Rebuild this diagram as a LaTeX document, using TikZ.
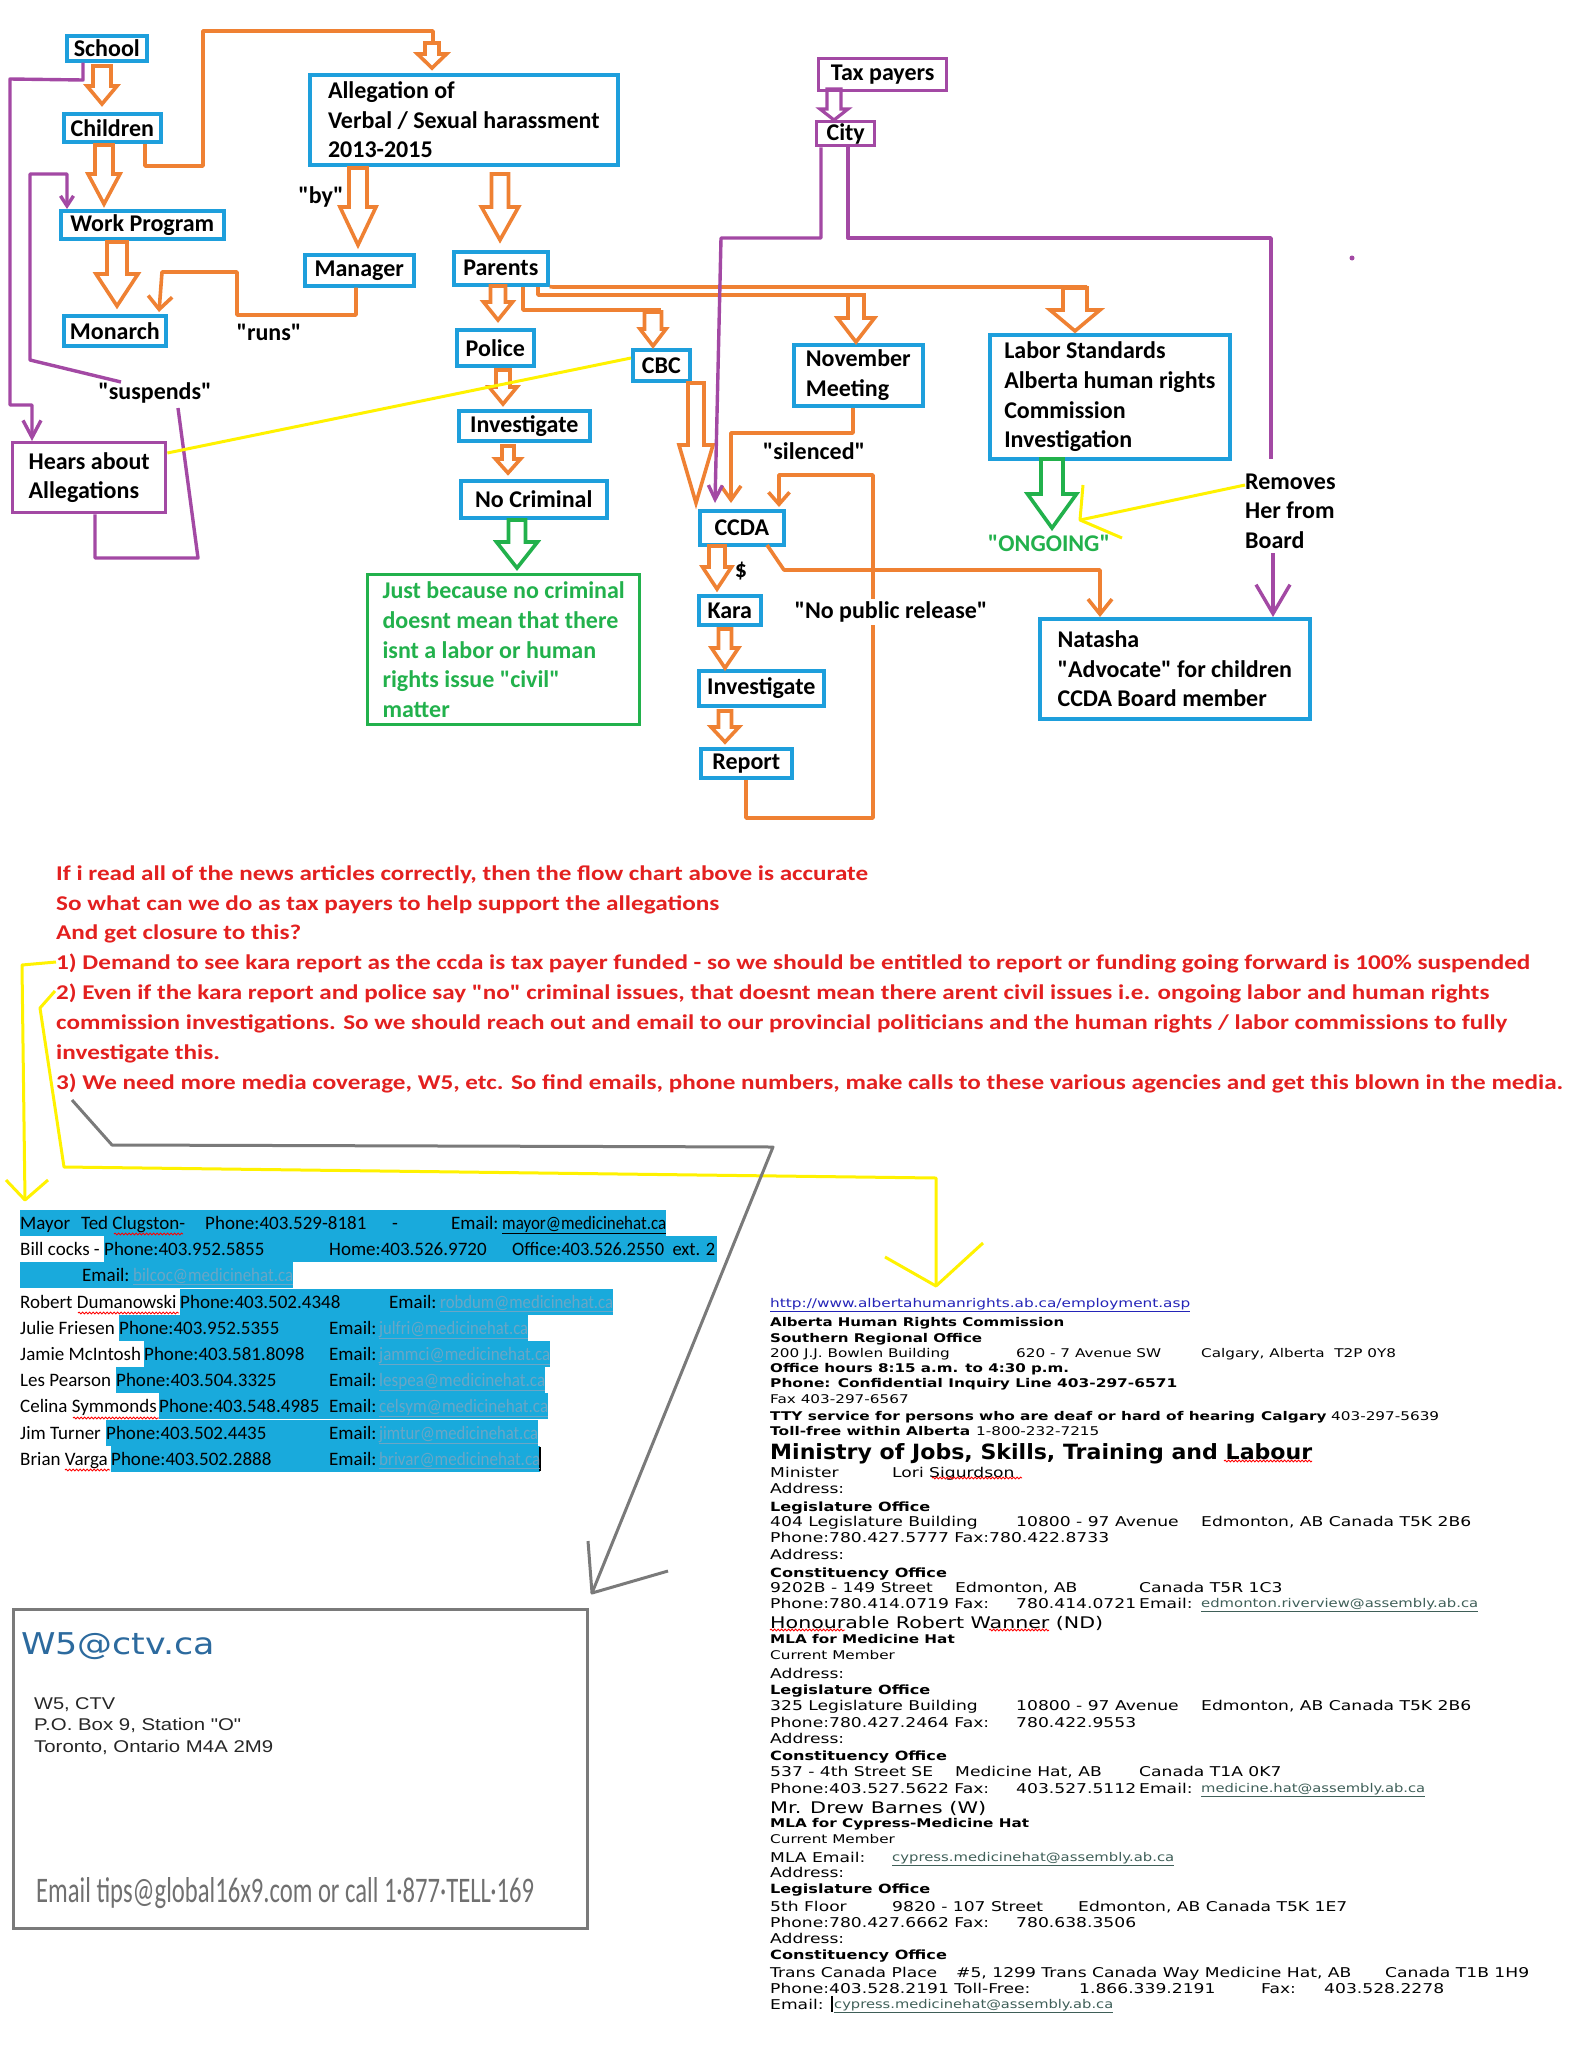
\documentclass[tikz,border=0pt]{standalone}
\usepackage{fontspec}
\setmainfont{Carlito}
\newfontfamily\carl{Carlito}
\newfontfamily\vf[FakeStretch=1.27]{DejaVu Sans}
\newfontfamily\djv{DejaVu Sans}
\newfontfamily\lbs{Liberation Sans}
\usetikzlibrary{arrows.meta,decorations.pathmorphing}
\definecolor{cblue}{HTML}{1E9FDC}
\definecolor{corange}{HTML}{EF8133}
\definecolor{cpurple}{HTML}{A349A4}
\definecolor{cgreen}{HTML}{22B14C}
\definecolor{cyellow}{HTML}{FFF200}
\definecolor{cgray}{HTML}{7A7A7A}
\definecolor{cred}{HTML}{E3201F}
\definecolor{chl}{HTML}{19AADC}
\definecolor{cfade}{HTML}{6AA6C6}
\definecolor{clink}{HTML}{2424B8}
\definecolor{cem}{HTML}{3F5F58}
\definecolor{cw5}{HTML}{2C6A9E}
\definecolor{ctips}{HTML}{707070}
\newcommand\lbl{\carl\fontsize{24}{29.7}\selectfont\bfseries}
\newcommand\redf{\carl\fontsize{21}{25}\selectfont\bfseries}
\newcommand\mf{\carl\fontsize{19}{22}\selectfont}
\newcommand\rf{\vf\fontsize{12}{14}\selectfont}
\newcommand\rfl{\vf\fontsize{13.5}{16}\selectfont}
\newcommand\rfh{\vf\fontsize{12.7}{15}\selectfont\bfseries}
\newcount\tn
% right column: regular, bold, large regular, heading, width-fitted
\newcommand\rline[3]{\global\advance\tn by 1 \node[anchor=base west,inner sep=0pt,font=\rf] (t\the\tn) at (#1,{#2+4.5}) {#3};}
\newcommand\bline[3]{\global\advance\tn by 1 \node[anchor=base west,inner sep=0pt,font=\rf\bfseries] (t\the\tn) at (#1,{#2+4.5}) {#3};}
\newcommand\lrline[3]{\global\advance\tn by 1 \node[anchor=base west,inner sep=0pt,font=\rfl] (t\the\tn) at (#1,{#2+5}) {#3};}
\newcommand\hdline[3]{\global\advance\tn by 1 \node[anchor=base west,inner sep=0pt,font=\rfh] (t\the\tn) at (#1,{#2+5}) {#3};}
\newcommand\wline[5]{\global\advance\tn by 1 \node[anchor=base west,inner sep=0pt,font=#4] (t\the\tn) at (#1,#2) {\resizebox{#3pt}{\height}{#5}};}
% mayor table
\newcommand\mt[3]{\global\advance\tn by 1 \node[anchor=base west,inner sep=0pt,font=\mf] (t\the\tn) at (#1,{#2+6}) {#3};}
\newcommand\me[4]{\global\advance\tn by 1 \node[anchor=base west,inner sep=0pt,font=\mf,text=cfade] (t\the\tn) at (#1,{#2+6}) {\resizebox{#3pt}{\height}{\underline{#4}}};}
\newcommand\hl[3]{\fill[chl] (#2,{#1-13.3}) rectangle (#3,{#1+13.3});}
% block arrow: style, xc, ytop, yhead, ytip, halfshaft, halfhead
\newcommand\barrow[7]{\draw[#1] ({#2-#6},#3) -- ({#2+#6},#3) -- ({#2+#6},#4) -- ({#2+#7},#4) -- (#2,#5) -- ({#2-#7},#4) -- ({#2-#6},#4) -- cycle;}
\tikzset{
 bluebox/.style={draw=cblue, line width=3.6pt, inner sep=0pt, anchor=north west, font=\lbl, align=left},
 purbox/.style={bluebox, draw=cpurple, line width=3.4pt},
 grnbox/.style={bluebox, draw=cgreen, line width=3.4pt, text=cgreen},
 oline/.style={draw=corange, line width=3.6pt, line join=round},
 pline/.style={draw=cpurple, line width=3.4pt, line join=round},
 yline/.style={draw=cyellow, line width=3pt, line join=round},
 gline/.style={draw=cgray, line width=3pt, line join=round},
 barr/.style={draw=corange, line width=3.6pt, line join=miter},
 barg/.style={draw=cgreen, line width=3.6pt, line join=miter},
 barp/.style={draw=cpurple, line width=3.2pt, line join=miter},
 lab/.style={font=\lbl, inner sep=0pt},
 sq/.style={draw=red, line width=0.9pt, decorate, decoration={snake, amplitude=0.9pt, segment length=3.5pt}},
}
\begin{document}
\begin{tikzpicture}[x=1pt,y=-1pt]
\fill[white] (0,0) rectangle (1583,2048);
\useasboundingbox (0,0) rectangle (1583,2048);

% ---------------- boxes ----------------
\node[bluebox, minimum width=80pt, minimum height=25pt] (school) at (65,34) {School};
\node[bluebox, minimum width=97pt, minimum height=28pt] (children) at (62,112) {Children};
\node[bluebox, minimum width=163pt, minimum height=28pt] (workprog) at (59,209) {Work Program};
\node[bluebox, minimum width=102pt, minimum height=30pt] (monarch) at (62,314) {Monarch};
\node[purbox, minimum width=153pt, minimum height=70pt] (hears) at (11,441) {Hears about\\Allegations};
\node[bluebox, minimum width=308pt, minimum height=90pt] (alleg) at (308,73) {Allegation of\\Verbal / Sexual harassment\\2013-2015};
\node[bluebox, minimum width=109pt, minimum height=31pt] (manager) at (303,253) {Manager};
\node[bluebox, minimum width=94pt, minimum height=33pt] (parents) at (452,250) {Parents};
\node[bluebox, minimum width=77pt, minimum height=36pt] (police) at (455,328) {Police};
\node[bluebox, minimum width=131pt, minimum height=30pt] (invest1) at (457,409) {Investigate};
\node[bluebox, minimum width=146pt, minimum height=37pt] (nocrim) at (459,479) {No Criminal};
\node[grnbox, minimum width=272pt, minimum height=150pt] (civil) at (366,573) {Just because no criminal\\doesnt mean that there\\isnt a labor or human\\rights issue "civil"\\matter};
\node[bluebox, minimum width=57pt, minimum height=31pt] (cbc) at (631,348) {CBC};
\node[bluebox, minimum width=84pt, minimum height=34pt] (ccda) at (698,509) {CCDA};
\node[bluebox, minimum width=62pt, minimum height=29pt] (kara) at (697,594) {Kara};
\node[bluebox, minimum width=125pt, minimum height=35pt] (invest2) at (697,669) {Investigate};
\node[bluebox, minimum width=91pt, minimum height=29pt] (report) at (699,747) {Report};
\node[bluebox, minimum width=129pt, minimum height=61pt] (november) at (792,343) {November\\Meeting};
\node[bluebox, minimum width=240pt, minimum height=124pt] (labor) at (988,333) {Labor Standards\\Alberta human rights\\Commission\\Investigation};
\node[bluebox, minimum width=270pt, minimum height=100pt] (natasha) at (1038,617) {Natasha\\"Advocate" for children\\CCDA Board member};
\node[purbox, minimum width=128pt, minimum height=32pt] (taxpayers) at (817,57) {Tax payers};
\node[purbox, minimum width=58pt, minimum height=24pt] (city) at (815,120) {City};

% ---------------- labels ----------------
\node[lab] (by) at (321,197) {"by"};
\node[lab] (runs) at (269,332) {"runs"};
\node[lab] (suspends) at (155,393) {"suspends"};
\node[lab] (silenced) at (814,451) {"silenced"};
\node[lab] (dollar) at (741,571) {\$};
\node[lab, text=cgreen] (ongoing) at (1049,543) {"ONGOING"};
\node[lab, anchor=west, align=left] (removes) at (1245,511) {Removes\\Her from\\Board};

% ---------------- block arrows ----------------
\barrow{barr}{102}{66}{86}{104}{9}{15}
\barrow{barr}{104}{145}{174}{204}{9}{16}
\barrow{barr}{117}{242}{274}{306}{10}{21}
\barrow{barr}{358}{168}{207}{245}{9}{18}
\barrow{barr}{500}{174}{207}{240}{8.5}{18.5}
\barrow{barr}{498}{286}{302}{320}{7.5}{14.5}
\barrow{barr}{503}{370}{387}{404}{7}{14}
\barrow{barr}{508}{446}{459}{473}{6}{12.5}
\barrow{barg}{517}{520}{542}{568}{8.5}{20.5}
\barrow{barr}{432}{43}{54}{68}{7}{14.5}
\barrow{barr}{653}{312}{329}{346}{8.5}{13}
\barrow{barr}{856}{295}{318}{342}{8}{18.5}
\barrow{barr}{1075}{288}{310}{331}{12}{25}
\barrow{barr}{696}{383}{445}{503}{8}{17}
\barrow{barr}{717}{546}{567}{589}{8}{14.5}
\barrow{barr}{725}{629}{648}{668}{6.5}{13.5}
\barrow{barr}{725}{711}{727}{742}{6.5}{14}
\barrow{barg}{1052}{459}{494}{528}{11}{24.5}
\barrow{barp}{834}{89}{109}{120}{7}{14}

% ---------------- orange connectors ----------------
\draw[oline] (children.south -| 145,0) -- (145,166) -- (203,166) -- (203,31) -- (433,31) -- (433,43);
\draw[oline, -{Straight Barb[length=13pt,width=24pt]}] (manager.south -| 356,0) -- (356,315) -- (237,315) -- (237,272) -- (162,272) -- (159,312);
\draw[oline] (parents.south -| 523,0) -- (523,310) -- (661,310);
\draw[oline] (parents.south -| 538,0) -- (538,295) -- (864,295);
\draw[oline] (parents.south east) -- (553,287) -- (1087,287);
\draw[oline, -{Straight Barb[length=14pt,width=20pt]}] (november.south -| 853,0) -- (853,433) -- (731,433) -- (731,503);
\draw[oline, -{Straight Barb[length=12pt,width=21pt]}] (report.south -| 746,0) -- (746,818) -- (873,818) -- (873,475) -- (779,475) -- (779,507);
\draw[oline, -{Straight Barb[length=15pt,width=24pt]}] (767,545) -- (784,570) -- (1100,570) -- (natasha.north -| 1100,0);
\node[lab, fill=white, inner ysep=3pt, inner xsep=1pt] (nopub) at (891,612) {"No public release"};

% ---------------- purple connectors ----------------
\draw[pline, -{Straight Barb[length=17pt,width=18pt]}] (school.south -| 83,0) -- (83,80) -- (10,79) -- (10,405) -- (32,405) -- (hears.north -| 32,0);
\draw[pline] (hears.south -| 95,0) -- (95,558) -- (198,558) -- (178,408);
\draw[pline, -{Straight Barb[length=10pt,width=13pt]}] (121,382) -- (30,360) -- (30,174) -- (67,174) -- (workprog.north -| 67,0);
\draw[pline, -{Straight Barb[length=14pt,width=14pt]}] (city.south -| 821,0) -- (821,238) -- (721,238) -- (715,503);
\draw[pline] (city.south -| 848,0) -- (848,238) -- (1271,238) -- (1271,459);
\draw[pline, -{Straight Barb[length=29pt,width=34pt]}] (1273,553) -- (natasha.north -| 1273,0);
\fill[cpurple] (1352,258) circle (2.5);

% ---------------- yellow connectors ----------------
\draw[yline] (hears.east |- 0,453) -- (cbc.west |- 0,358);
\draw[yline] (removes.west |- 0,485) -- (1080,520);
\draw[yline] (1083,485) -- (1080,520) -- (1122,538);

% ---------------- red text ----------------
\wline{56}{880}{812}{\redf\color{cred}}{If i read all of the news articles correctly, then the flow chart above is accurate}
\wline{56}{910}{663}{\redf\color{cred}}{So what can we do as tax payers to help support the allegations}
\wline{56}{939}{245}{\redf\color{cred}}{And get closure to this?}
\wline{56}{969}{1474}{\redf\color{cred}}{1) Demand to see kara report as the ccda is tax payer funded - so we should be entitled to report or funding going forward is 100\% suspended}
\wline{56}{999}{1433}{\redf\color{cred}}{2) Even if the kara report and police say "no" criminal issues, that doesnt mean there arent civil issues i.e. ongoing labor and human rights}
\wline{56}{1029}{1451}{\redf\color{cred}}{commission investigations. So we should reach out and email to our provincial politicians and the human rights / labor commissions to fully}
\wline{56}{1059}{164}{\redf\color{cred}}{investigate this.}
\wline{56}{1089}{1507}{\redf\color{cred}}{3) We need more media coverage, W5, etc. So find emails, phone numbers, make calls to these various agencies and get this blown in the media.}

% ---------------- yellow / gray pointers ----------------
\coordinate (one) at (56,962);
\coordinate (two) at (55,991);
\coordinate (three) at (72,1100);
\draw[yline] (one) -- (22,965) -- (25,1200);
\draw[yline] (6,1180) -- (25,1200) -- (48,1180);
\draw[yline] (two) -- (40,1008) -- (64,1167) -- (936,1178) -- (936,1286);
\draw[yline] (885,1257) -- (936,1286) -- (983,1243);
\draw[gline] (three) -- (112,1145) -- (773,1147) -- (592,1593);
\draw[gline] (588,1541) -- (592,1593) -- (668,1571);

% ---------------- mayor table ----------------
\hl{1223}{20}{666}
\hl{1249}{104}{717}
\hl{1275}{20}{293}
\hl{1302}{180}{613}
\hl{1328}{119}{528}
\hl{1354}{144}{550}
\hl{1380}{116}{545}
\hl{1406}{159}{548}
\hl{1433}{106}{538}
\hl{1459}{111}{540}
\draw[black, line width=1.5pt] (540,1447) -- (540,1471);
\mt{20}{1223}{Mayor}
\mt{81}{1223}{Ted Clugston-}
\mt{205}{1223}{Phone:403.529-8181}
\mt{392}{1223}{-}
\mt{451}{1223}{Email:}
\global\advance\tn by 1 \node[anchor=base west,inner sep=0pt,font=\mf] (t\the\tn) at (502,1229) {\resizebox{164pt}{\height}{\underline{mayor@medicinehat.ca}}};
\mt{20}{1249}{Bill cocks -}
\mt{104}{1249}{Phone:403.952.5855}
\mt{329}{1249}{Home:403.526.9720}
\global\advance\tn by 1 \node[anchor=base west,inner sep=0pt,font=\mf] (t\the\tn) at (512,1255) {\resizebox{203pt}{\height}{Office:403.526.2550\ \ ext. 2}};
\mt{82}{1275}{Email:}
\me{133}{1275}{160}{bilcoc@medicinehat.ca}
\mt{20}{1302}{Robert Dumanowski}
\mt{180}{1302}{Phone:403.502.4348}
\mt{389}{1302}{Email:}
\me{440}{1302}{173}{robdum@medicinehat.ca}
\mt{20}{1328}{Julie Friesen}
\mt{119}{1328}{Phone:403.952.5355}
\mt{329}{1328}{Email:}
\me{379}{1328}{149}{julfri@medicinehat.ca}
\mt{20}{1354}{Jamie McIntosh}
\mt{144}{1354}{Phone:403.581.8098}
\mt{329}{1354}{Email:}
\me{379}{1354}{171}{jammci@medicinehat.ca}
\mt{20}{1380}{Les Pearson}
\mt{116}{1380}{Phone:403.504.3325}
\mt{329}{1380}{Email:}
\me{379}{1380}{166}{lespea@medicinehat.ca}
\mt{20}{1406}{Celina Symmonds}
\mt{159}{1406}{Phone:403.548.4985}
\mt{329}{1406}{Email:}
\me{379}{1406}{169}{celsym@medicinehat.ca}
\mt{20}{1433}{Jim Turner}
\mt{106}{1433}{Phone:403.502.4435}
\mt{329}{1433}{Email:}
\me{379}{1433}{159}{jimtur@medicinehat.ca}
\mt{20}{1459}{Brian Varga}
\mt{111}{1459}{Phone:403.502.2888}
\mt{329}{1459}{Email:}
\me{379}{1459}{161}{brivar@medicinehat.ca}
\draw[sq] (114,1234) -- (183,1234);
\draw[sq] (78,1313) -- (179,1313);
\draw[sq] (73,1418) -- (159,1418);
\draw[sq] (65,1470) -- (110,1470);

% ---------------- W5 box ----------------
\node[draw=cgray, line width=3pt, minimum width=574pt, minimum height=319pt, anchor=north west, inner sep=0pt] (w5box) at (12,1608) {};
\wline{21}{1654}{194}{\djv\fontsize{30}{34}\selectfont\color{cw5}}{W5@ctv.ca}
\wline{34}{1709}{81}{\lbs\fontsize{17}{20}\selectfont\color{black!85}}{W5, CTV}
\wline{34}{1730}{207}{\lbs\fontsize{17}{20}\selectfont\color{black!85}}{P.O. Box 9, Station "O"}
\wline{34}{1752}{239}{\lbs\fontsize{17}{20}\selectfont\color{black!85}}{Toronto, Ontario M4A 2M9}
\wline{36}{1902}{498}{\carl\fontsize{36}{40}\selectfont\color{ctips}}{Email tips@global16x9.com or call 1·877·TELL·169}

% ---------------- right column ----------------
\wline{770}{1307.5}{420}{\rf\color{clink}}{\underline{http://www.albertahumanrights.ab.ca/employment.asp}}
\wline{770}{1326.5}{294}{\rf\bfseries}{Alberta Human Rights Commission}
\wline{770}{1342.5}{212}{\rf\bfseries}{Southern Regional Office}
\rline{770}{1353}{200 J.J. Bowlen Building}
\rline{1016}{1353}{620 - 7 Avenue SW}
\rline{1201}{1353}{Calgary, Alberta\ \ T2P 0Y8}
\wline{770}{1372.5}{299}{\rf\bfseries}{Office hours 8:15 a.m. to 4:30 p.m.}
\wline{770}{1387.5}{407}{\rf\bfseries}{Phone: Confidential Inquiry Line 403-297-6571}
\rline{770}{1399}{Fax 403-297-6567}
\wline{770}{1420.5}{485}{\rf\bfseries}{TTY service for persons who are deaf or hard of hearing}
\bline{1261}{1416}{Calgary}
\rline{1331}{1416}{403-297-5639}
\wline{770}{1435.5}{200}{\rf\bfseries}{Toll-free within Alberta}
\rline{976}{1431}{1-800-232-7215}
\wline{770}{1459}{542}{\djv\fontsize{21}{24}\selectfont\bfseries}{Ministry of Jobs, Skills, Training and Labour}
\lrline{770}{1472}{Minister}
\lrline{892}{1472}{Lori Sigurdson}
\lrline{770}{1488}{Address:}
\hdline{770}{1506}{Legislature Office}
\lrline{770}{1521}{404 Legislature Building}
\lrline{1016}{1521}{10800 - 97 Avenue}
\lrline{1201}{1521}{Edmonton, AB Canada T5K 2B6}
\lrline{770}{1537}{Phone:780.427.5777 Fax:780.422.8733}
\lrline{770}{1554}{Address:}
\hdline{770}{1572}{Constituency Office}
\lrline{770}{1587}{9202B - 149 Street}
\lrline{955}{1587}{Edmonton, AB}
\lrline{1139}{1587}{Canada T5R 1C3}
\lrline{770}{1603}{Phone:780.414.0719 Fax:}
\lrline{1016}{1603}{780.414.0721}
\lrline{1139}{1603}{Email:}
\wline{1201}{1607.5}{277}{\rf\color{cem}}{\underline{edmonton.riverview@assembly.ab.ca}}
\wline{770}{1628}{333}{\djv\fontsize{16}{19}\selectfont}{Honourable Robert Wanner (ND)}
\bline{770}{1639}{MLA for Medicine Hat}
\rline{770}{1655}{Current Member}
\lrline{770}{1673}{Address:}
\hdline{770}{1689}{Legislature Office}
\lrline{770}{1705}{325 Legislature Building}
\lrline{1016}{1705}{10800 - 97 Avenue}
\lrline{1201}{1705}{Edmonton, AB Canada T5K 2B6}
\lrline{770}{1722}{Phone:780.427.2464 Fax:}
\lrline{1016}{1722}{780.422.9553}
\lrline{770}{1738}{Address:}
\hdline{770}{1755}{Constituency Office}
\lrline{770}{1771}{537 - 4th Street SE}
\lrline{955}{1771}{Medicine Hat, AB}
\lrline{1139}{1771}{Canada T1A 0K7}
\lrline{770}{1788}{Phone:403.527.5622 Fax:}
\lrline{1016}{1788}{403.527.5112}
\lrline{1139}{1788}{Email:}
\wline{1201}{1792.5}{224}{\rf\color{cem}}{\underline{medicine.hat@assembly.ab.ca}}
\wline{770}{1813}{216}{\djv\fontsize{16}{19}\selectfont}{Mr. Drew Barnes (W)}
\bline{770}{1823}{MLA for Cypress-Medicine Hat}
\rline{770}{1839}{Current Member}
\lrline{770}{1857}{MLA Email:}
\wline{892}{1861.5}{282}{\rf\color{cem}}{\underline{cypress.medicinehat@assembly.ab.ca}}
\lrline{770}{1872}{Address:}
\hdline{770}{1888}{Legislature Office}
\lrline{770}{1906}{5th Floor}
\lrline{892}{1906}{9820 - 107 Street}
\lrline{1078}{1906}{Edmonton, AB Canada T5K 1E7}
\lrline{770}{1922}{Phone:780.427.6662 Fax:}
\lrline{1016}{1922}{780.638.3506}
\lrline{770}{1938}{Address:}
\hdline{770}{1954}{Constituency Office}
\lrline{770}{1972}{Trans Canada Place}
\lrline{956}{1972}{\#5, 1299 Trans Canada Way Medicine Hat, AB}
\lrline{1385}{1972}{Canada T1B 1H9}
\lrline{770}{1988}{Phone:403.528.2191 Toll-Free:}
\lrline{1079}{1988}{1.866.339.2191}
\lrline{1261}{1988}{Fax:}
\lrline{1324}{1988}{403.528.2278}
\lrline{770}{2004}{Email:}
\wline{834}{2008.5}{279}{\rf\color{cem}}{\underline{cypress.medicinehat@assembly.ab.ca}}
\draw[black, line width=1.5pt] (832,1996) -- (832,2012);
\draw[sq] (1224,1461) -- (1312,1461);
\draw[sq] (932,1478) -- (1022,1478);
\draw[sq] (770,1630) -- (845,1630);
\draw[sq] (989,1630) -- (1049,1630);
\end{tikzpicture}
\end{document}
